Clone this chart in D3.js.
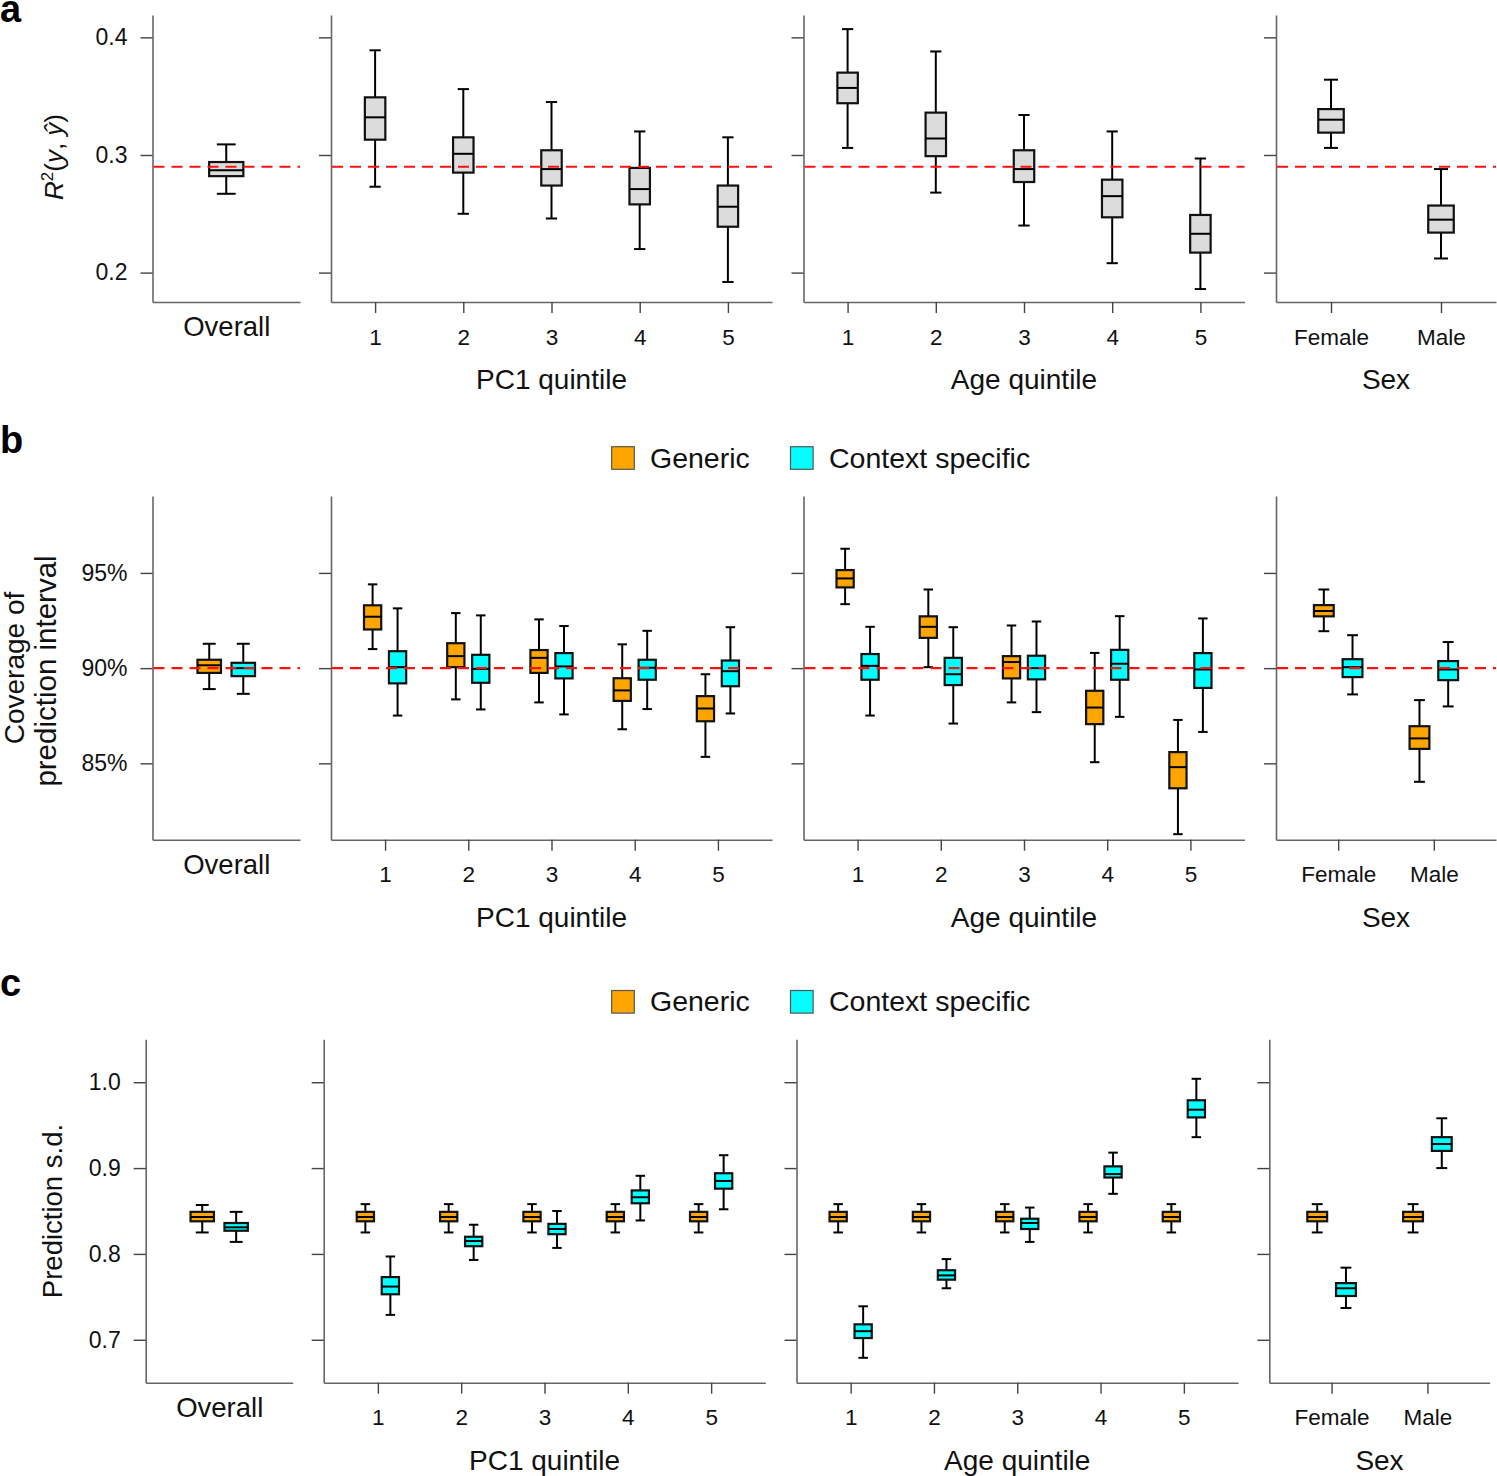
<!DOCTYPE html>
<html>
<head>
<meta charset="utf-8">
<script src="https://cdn.jsdelivr.net/npm/d3@7"></script>
<style>
  body { margin: 0; background: #fff; }
  svg { display: block; }
  text { font-family: "Liberation Sans", Arial, sans-serif; fill: #111; }
</style>
</head>
<body>
<svg id="chart" width="1497" height="1476"></svg>
<script>
// ---------------- DATA (box stats: [whiskerLow, Q1, median, Q3, whiskerHigh]) ----------------
const overallLabel = ["Overall"];
const pc1Labels = ["1", "2", "3", "4", "5"];
const ageLabels = ["1", "2", "3", "4", "5"];
const sexLabels = ["Female", "Male"];
const panelTitles = ["", "PC1 quintile", "Age quintile", "Sex"];
const seriesNames = ["Generic", "Context specific"];

// (a) R^2(y, y-hat)
const r2Ticks = [0.2, 0.3, 0.4];
const r2Reference = 0.29;
const r2Overall = [[0.267, 0.282, 0.287, 0.294, 0.309]];
const r2PC1 = [
  [0.273, 0.313, 0.332, 0.349, 0.389],
  [0.250, 0.285, 0.301, 0.315, 0.356],
  [0.246, 0.274, 0.288, 0.304, 0.345],
  [0.220, 0.258, 0.271, 0.289, 0.320],
  [0.192, 0.239, 0.256, 0.274, 0.315]
];
const r2Age = [
  [0.306, 0.344, 0.357, 0.370, 0.407],
  [0.268, 0.299, 0.314, 0.336, 0.388],
  [0.240, 0.277, 0.288, 0.304, 0.334],
  [0.208, 0.247, 0.265, 0.279, 0.320],
  [0.186, 0.217, 0.233, 0.249, 0.297]
];
const r2Sex = [
  [0.306, 0.319, 0.330, 0.339, 0.364],
  [0.212, 0.234, 0.245, 0.257, 0.288]
];

// (b) Coverage of prediction interval (%)
const covTicks = [85, 90, 95];
const covReference = 90;
const covGenericOverall = [[88.90, 89.75, 90.15, 90.44, 91.28]];
const covContextOverall = [[88.65, 89.58, 90.00, 90.28, 91.28]];
const covGenericPC1 = [
  [91.00, 92.03, 92.70, 93.30, 94.40],
  [88.36, 90.05, 90.63, 91.31, 92.89],
  [88.20, 89.75, 90.54, 90.95, 92.56],
  [86.79, 88.28, 88.83, 89.47, 91.25],
  [85.34, 87.21, 87.88, 88.53, 89.68]
];
const covContextPC1 = [
  [87.51, 89.20, 90.05, 90.89, 93.14],
  [87.83, 89.23, 89.96, 90.70, 92.77],
  [87.57, 89.46, 90.09, 90.79, 92.21],
  [87.85, 89.39, 90.02, 90.44, 91.96],
  [87.62, 89.05, 89.84, 90.40, 92.15]
];
const covGenericAge = [
  [93.36, 94.24, 94.71, 95.15, 96.27],
  [90.05, 91.59, 92.17, 92.72, 94.13],
  [88.20, 89.46, 90.32, 90.63, 92.24],
  [85.06, 87.06, 87.93, 88.81, 90.80],
  [81.28, 83.69, 84.80, 85.59, 87.28]
];
const covContextAge = [
  [87.51, 89.39, 90.12, 90.74, 92.17],
  [87.09, 89.11, 89.68, 90.54, 92.15],
  [87.69, 89.41, 90.00, 90.65, 92.45],
  [87.44, 89.39, 90.23, 90.96, 92.73],
  [86.65, 88.96, 89.93, 90.79, 92.61]
];
const covGenericSex = [
  [91.94, 92.72, 93.00, 93.31, 94.13],
  [84.03, 85.76, 86.31, 86.95, 88.32]
];
const covContextSex = [
  [88.62, 89.53, 90.05, 90.47, 91.73],
  [87.99, 89.37, 89.93, 90.37, 91.37]
];

// (c) Prediction s.d.
const sdTicks = [0.7, 0.8, 0.9, 1.0];
const sdGenericOverall = [[0.825, 0.838, 0.843, 0.849, 0.857]];
const sdContextOverall = [[0.814, 0.827, 0.831, 0.836, 0.849]];
const sdGenericPC1 = [
  [0.825, 0.838, 0.843, 0.849, 0.858],
  [0.825, 0.838, 0.843, 0.849, 0.858],
  [0.825, 0.838, 0.843, 0.849, 0.858],
  [0.825, 0.838, 0.843, 0.849, 0.858],
  [0.825, 0.838, 0.843, 0.849, 0.858]
];
const sdContextPC1 = [
  [0.729, 0.753, 0.762, 0.773, 0.797],
  [0.793, 0.809, 0.815, 0.820, 0.834],
  [0.807, 0.823, 0.829, 0.835, 0.850],
  [0.839, 0.859, 0.866, 0.874, 0.891],
  [0.852, 0.876, 0.885, 0.894, 0.915]
];
const sdGenericAge = [
  [0.825, 0.838, 0.843, 0.849, 0.858],
  [0.825, 0.838, 0.843, 0.849, 0.858],
  [0.825, 0.838, 0.843, 0.849, 0.858],
  [0.825, 0.838, 0.843, 0.849, 0.858],
  [0.825, 0.838, 0.843, 0.849, 0.858]
];
const sdContextAge = [
  [0.679, 0.702, 0.710, 0.718, 0.739],
  [0.760, 0.770, 0.775, 0.781, 0.794],
  [0.814, 0.829, 0.836, 0.841, 0.854],
  [0.870, 0.889, 0.893, 0.902, 0.918],
  [0.936, 0.959, 0.968, 0.979, 1.004]
];
const sdGenericSex = [
  [0.825, 0.838, 0.843, 0.849, 0.858],
  [0.825, 0.838, 0.843, 0.849, 0.858]
];
const sdContextSex = [
  [0.737, 0.751, 0.760, 0.766, 0.784],
  [0.900, 0.920, 0.928, 0.936, 0.958]
];

// ---------------- LAYOUT / STYLE ----------------
const panelCategories = [overallLabel, pc1Labels, ageLabels, sexLabels];
const COL_GENERIC = "#ffa500", COL_CONTEXT = "#00ffff", COL_GRAY = "#dcdcdc";
const AXIS_COL = "#666";

const rows = [
  {
    letter: "a", letterY: 22, yDomain: [0.175, 0.419], yRange: [302, 15],
    yTicks: r2Ticks, yFormat: d3.format(".1f"),
    xPanels: [[152.5, 300], [331, 772], [803.5, 1244.5], [1276, 1496]],
    padding: 0.5, boxFrac: 0.232,
    series: [{ fill: COL_GRAY, off: 0, panels: [r2Overall, r2PC1, r2Age, r2Sex] }],
    ref: r2Reference, legendY: null, ylabel: "r2"
  },
  {
    letter: "b", letterY: 453, yDomain: [80.99, 99.04], yRange: [839.7, 496],
    yTicks: covTicks, yFormat: d => d + "%",
    xPanels: [[152.5, 300], [331, 772], [803.5, 1244.5], [1276, 1496]],
    padding: 0.65, boxFrac: 0.207,
    series: [
      { fill: COL_GENERIC, off: -0.15, panels: [covGenericOverall, covGenericPC1, covGenericAge, covGenericSex] },
      { fill: COL_CONTEXT, off: 0.15, panels: [covContextOverall, covContextPC1, covContextAge, covContextSex] }
    ],
    ref: covReference, legendY: 446.7, ylabel: "cov"
  },
  {
    letter: "c", letterY: 996, yDomain: [0.65, 1.05], yRange: [1382.7, 1039.3],
    yTicks: sdTicks, yFormat: d3.format(".1f"),
    xPanels: [[145.7, 292.7], [323.7, 765.3], [796.5, 1238], [1269.3, 1489.7]],
    padding: 0.65, boxFrac: 0.207,
    series: [
      { fill: COL_GENERIC, off: -0.15, panels: [sdGenericOverall, sdGenericPC1, sdGenericAge, sdGenericSex] },
      { fill: COL_CONTEXT, off: 0.15, panels: [sdContextOverall, sdContextPC1, sdContextAge, sdContextSex] }
    ],
    ref: null, legendY: 990.5, ylabel: "sd"
  }
];

const svg = d3.select("#chart");

function drawBox(g, cx, w, y, s, fill) {
  const [lo, q1, med, q3, hi] = s;
  const cap = w * 0.55;
  g.append("line").attr("x1", cx).attr("x2", cx).attr("y1", y(lo)).attr("y2", y(hi))
    .attr("stroke", "#000").attr("stroke-width", 2);
  [lo, hi].forEach(v => g.append("line")
    .attr("x1", cx - cap / 2).attr("x2", cx + cap / 2).attr("y1", y(v)).attr("y2", y(v))
    .attr("stroke", "#000").attr("stroke-width", 2));
  g.append("rect").attr("x", cx - w / 2).attr("width", w)
    .attr("y", y(q3)).attr("height", y(q1) - y(q3))
    .attr("fill", fill).attr("stroke", "#111").attr("stroke-width", 2.2);
  g.append("line").attr("x1", cx - w / 2).attr("x2", cx + w / 2).attr("y1", y(med)).attr("y2", y(med))
    .attr("stroke", "#000").attr("stroke-width", 2);
}

rows.forEach(row => {
  const y = d3.scaleLinear().domain(row.yDomain).range(row.yRange);
  const axisY = row.yRange[0];

  // panel letter
  svg.append("text").attr("x", 0).attr("y", row.letterY).text(row.letter)
    .attr("font-size", 38).attr("font-weight", "bold").style("fill", "#000");

  row.xPanels.forEach((xr, pi) => {
    const cats = panelCategories[pi];
    const x = d3.scalePoint().domain(cats).range(xr).padding(row.padding);
    const step = x.step();
    const g = svg.append("g");

    // y axis
    const ya = d3.axisLeft(y).tickValues(row.yTicks).tickSize(12).tickSizeOuter(0).tickPadding(13)
      .tickFormat(pi === 0 ? row.yFormat : () => "");
    const yg = g.append("g").attr("transform", `translate(${xr[0]},0)`).call(ya);
    yg.select(".domain").attr("stroke", AXIS_COL).attr("stroke-width", 1.6);
    yg.selectAll(".tick line").attr("stroke", "#444").attr("stroke-width", 1.4);
    yg.selectAll(".tick text").attr("font-size", 23).style("fill", "#111")
      .attr("font-family", "Liberation Sans, Arial, sans-serif");

    // x axis
    const isOverall = pi === 0;
    const xa = d3.axisBottom(x).tickSize(isOverall ? 0 : 11).tickSizeOuter(0);
    const xg = g.append("g").attr("transform", `translate(0,${axisY})`).call(xa);
    xg.select(".domain").attr("stroke", AXIS_COL).attr("stroke-width", 1.6);
    xg.selectAll(".tick line").attr("stroke", "#444").attr("stroke-width", 1.4);
    xg.selectAll(".tick text").attr("dy", null)
      .attr("y", isOverall ? 34 : 42.5)
      .attr("font-size", isOverall ? 27.5 : 22.5)
      .attr("font-family", "Liberation Sans, Arial, sans-serif")
      .style("fill", "#111");

    // title
    if (panelTitles[pi]) {
      g.append("text").attr("x", (xr[0] + xr[1]) / 2).attr("y", axisY + 87)
        .attr("text-anchor", "middle").attr("font-size", 28).text(panelTitles[pi]);
    }

    // boxes
    const bw = step * row.boxFrac;
    row.series.forEach(se => {
      se.panels[pi].forEach((s, i) => {
        drawBox(g, x(cats[i]) + se.off * step, bw, y, s, se.fill);
      });
    });

    // reference line
    if (row.ref !== null) {
      g.append("line").attr("x1", xr[0] + 1).attr("x2", xr[1]).attr("y1", y(row.ref)).attr("y2", y(row.ref))
        .attr("stroke", "#ff1010").attr("stroke-width", 2.2).attr("stroke-dasharray", "11,7");
    }
  });

  // legend
  if (row.legendY !== null) {
    const lg = svg.append("g");
    const items = [
      { name: seriesNames[0], fill: COL_GENERIC, rx: 611.7, tx: 650 },
      { name: seriesNames[1], fill: COL_CONTEXT, rx: 790.5, tx: 829 }
    ];
    items.forEach(it => {
      lg.append("rect").attr("x", it.rx).attr("y", row.legendY).attr("width", 22.6).attr("height", 22.6)
        .attr("fill", it.fill).attr("stroke", "#555").attr("stroke-width", 1.2);
      lg.append("text").attr("x", it.tx).attr("y", row.legendY + 20.8).attr("font-size", 28.5).text(it.name);
    });
  }

  // y-axis label
  if (row.ylabel === "r2") {
    const t = svg.append("text").attr("transform", `translate(63,${157}) rotate(-90)`)
      .attr("text-anchor", "middle").attr("font-size", 26);
    t.append("tspan").attr("font-style", "italic").text("R");
    t.append("tspan").attr("dy", -10).attr("font-size", 17).text("2");
    t.append("tspan").attr("dy", 10).text("(");
    t.append("tspan").attr("font-style", "italic").text("y");
    t.append("tspan").text(", ");
    t.append("tspan").attr("font-style", "italic").text("ŷ");
    t.append("tspan").text(")");
  } else if (row.ylabel === "cov") {
    svg.append("text").attr("transform", `translate(24,668) rotate(-90)`)
      .attr("text-anchor", "middle").attr("font-size", 28).text("Coverage of");
    svg.append("text").attr("transform", `translate(56,671) rotate(-90)`)
      .attr("text-anchor", "middle").attr("font-size", 29.5).text("prediction interval");
  } else {
    svg.append("text").attr("transform", `translate(62,1211) rotate(-90)`)
      .attr("text-anchor", "middle").attr("font-size", 27.5).text("Prediction s.d.");
  }
});
</script>
</body>
</html>
